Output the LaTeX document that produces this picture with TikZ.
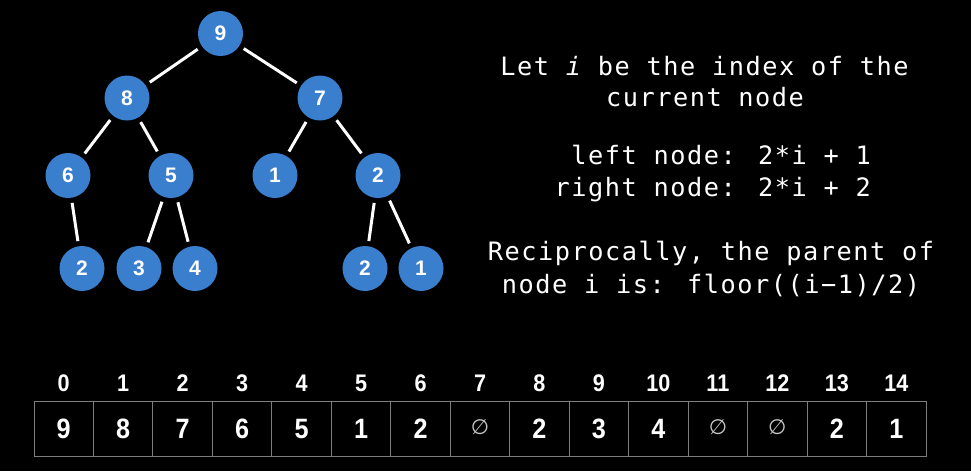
\documentclass[tikz,border=0pt]{standalone}
\usepackage{fontspec}
\setmainfont{Liberation Sans}
\newfontfamily\monofont[LetterSpace=6]{DejaVu Sans Mono}
\newfontfamily\arrfont[FakeStretch=0.9]{Liberation Sans}
\newfontfamily\symfont{DejaVu Sans}
\definecolor{nodeblue}{RGB}{58,126,206}
\definecolor{cellgray}{RGB}{125,125,125}
\definecolor{nullgray}{RGB}{200,200,200}
\tikzset{
  heapnode/.style={circle, fill=nodeblue, minimum size=45pt, inner sep=0pt,
    text=white, font=\fontsize{21}{22}\selectfont\bfseries},
  edge/.style={draw=white, line width=3pt, shorten >=5pt, shorten <=5pt},
  txt/.style={text=white, inner sep=0pt, anchor=base,
    font=\monofont\fontsize{25.3}{30}\selectfont},
  cell/.style={draw=cellgray, line width=1pt, minimum width=59.47pt, minimum height=55pt,
    inner sep=0pt, text=white, font=\arrfont\fontsize{28}{30}\selectfont\bfseries},
  idx/.style={text=white, inner sep=0pt, font=\arrfont\fontsize{24}{26}\selectfont\bfseries},
  nullsym/.style={text=nullgray, font=\symfont\fontsize{21}{22}\selectfont}
}
\def\nullmark{N}
\begin{document}
\begin{tikzpicture}[x=1pt,y=-1pt]
\fill[black] (0,0) rectangle (971,471);
\useasboundingbox (0,0) rectangle (971,471);
% tree
\node[heapnode] (n0) at (220.5,33.5) {9};
\node[heapnode] (n1) at (127,98) {8};
\node[heapnode] (n2) at (320,98) {7};
\node[heapnode] (n3) at (68,175.5) {6};
\node[heapnode] (n4) at (171,175.5) {5};
\node[heapnode] (n5) at (275,175.5) {1};
\node[heapnode] (n6) at (378,175.5) {2};
\node[heapnode] (n8) at (82,268.5) {2};
\node[heapnode] (n9) at (139,268.5) {3};
\node[heapnode] (n10) at (195,268.5) {4};
\node[heapnode] (n13) at (365,268.5) {2};
\node[heapnode] (n14) at (421,268.5) {1};
\draw[edge] (n0) -- (n1);
\draw[edge] (n0) -- (n2);
\draw[edge] (n1) -- (n3);
\draw[edge] (n1) -- (n4);
\draw[edge] (n2) -- (n5);
\draw[edge] (n2) -- (n6);
\draw[edge] (n3) -- (n8);
\draw[edge] (n4) -- (n9);
\draw[edge] (n4) -- (n10);
\draw[edge] (n6) -- (n13);
\draw[edge] (n6) -- (n14);
% text
\node[txt] (t1) at (704.5,75) {Let {\itshape i} be the index of the};
\node[txt] (t2) at (705,106.5) {current node};
\node[txt, anchor=base east] (t3) at (871,164) {left node: 2*i + 1};
\node[txt, anchor=base east] (t4) at (871,196.5) {right node: 2*i + 2};
\node[txt] (t5) at (711,260.5) {Reciprocally, the parent of};
\node[txt] (t6) at (711,293) {node i is: floor((i−1)/2)};
% array
\foreach \v [count=\k from 0] in {9,8,7,6,5,1,2,N,2,3,4,N,N,2,1} {
  \pgfmathsetmacro{\cx}{34+59.47*\k+29.735}
  \node[idx] (i\k) at (\cx,383) {\k};
  \ifx\v\nullmark
    \node[cell] (c\k) at (\cx,428.5) {};
    \node[nullsym] (z\k) at (\cx,427) {∅};
  \else
    \node[cell] (c\k) at (\cx,428.5) {\v};
  \fi
}
\end{tikzpicture}
\end{document}
